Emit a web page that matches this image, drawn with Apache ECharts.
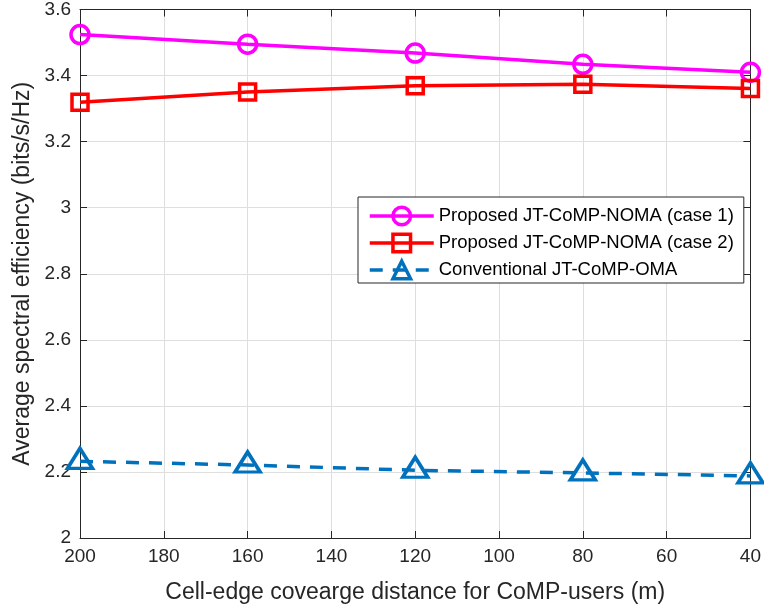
<!DOCTYPE html>
<html><head><meta charset="utf-8">
<script src="https://cdn.jsdelivr.net/npm/echarts@6/dist/echarts.min.js"></script>
<style>html,body{margin:0;padding:0;background:#fff}#c{width:764px;height:610px}</style>
</head><body><div id="c"></div>
<script>
const distances = [200, 160, 120, 80, 40];
const case1 = [3.524, 3.495, 3.468, 3.434, 3.410];
const case2 = [3.319, 3.350, 3.369, 3.374, 3.361];
const oma = [2.232, 2.221, 2.205, 2.197, 2.188];
const seriesNames = ['Proposed JT-CoMP-NOMA (case 1)', 'Proposed JT-CoMP-NOMA (case 2)', 'Conventional JT-CoMP-OMA'];
const xTitle = 'Cell-edge covearge distance for CoMP-users (m)';
const yTitle = 'Average spectral efficiency (bits/s/Hz)';

const pairs = v => distances.map((d, i) => [d, v[i]]);
const font = 'Liberation Sans, Arial, Helvetica, sans-serif';
const axisCommon = {
  axisLine: {show: true, lineStyle: {color: '#262626', width: 1}},
  axisTick: {show: true, inside: true, length: 7, lineStyle: {color: '#262626'}},
};
const chart = echarts.init(document.getElementById('c'));
chart.setOption({
  animation: false,
  backgroundColor: '#fff',
  grid: {left: 80, right: 13, top: 9, bottom: 72, containLabel: false},
  legend: {
    left: 358, top: 197, orient: 'vertical',
    backgroundColor: '#fff', borderColor: '#262626', borderWidth: 1,
    padding: [8, 10, 2, 10], itemGap: 5, itemWidth: 64, itemHeight: 22,
    lineStyle: {width: 3.5},
    itemStyle: {borderWidth: 3.5},
    textStyle: {fontFamily: font, fontSize: 18.5, color: '#000', lineHeight: 22},
    data: seriesNames
  },
  xAxis: [{
    type: 'value', inverse: true, min: 40, max: 200, interval: 20,
    ...axisCommon,
    axisLabel: {fontFamily: font, fontSize: 19, color: '#262626', margin: 9},
    splitLine: {show: true, lineStyle: {color: '#dedede', width: 1}},
    name: xTitle, nameLocation: 'middle', nameGap: 43,
    nameTextStyle: {fontFamily: font, fontSize: 23, color: '#262626'}
  }, {
    type: 'value', inverse: true, min: 40, max: 200, interval: 20, position: 'top',
    ...axisCommon, axisLabel: {show: false}, splitLine: {show: false}
  }],
  yAxis: [{
    type: 'value', min: 2, max: 3.6, interval: 0.2,
    ...axisCommon,
    axisLabel: {fontFamily: font, fontSize: 19, color: '#262626', margin: 9},
    splitLine: {show: true, lineStyle: {color: '#dedede', width: 1}},
    name: yTitle, nameLocation: 'middle', nameGap: 46,
    nameTextStyle: {fontFamily: font, fontSize: 23, color: '#262626'}
  }, {
    type: 'value', min: 2, max: 3.6, interval: 0.2, position: 'right',
    ...axisCommon, axisLabel: {show: false}, splitLine: {show: false}
  }],
  series: [{
    name: seriesNames[0], type: 'line', data: pairs(case1),
    symbol: 'circle', symbolSize: 18,
    lineStyle: {color: '#ff00ff', width: 3.5},
    itemStyle: {color: 'rgba(255,255,255,0)', borderColor: '#ff00ff', borderWidth: 3.5},
    color: '#ff00ff', z: 3
  }, {
    name: seriesNames[1], type: 'line', data: pairs(case2),
    symbol: 'rect', symbolSize: 16,
    lineStyle: {color: '#ff0000', width: 3.5},
    itemStyle: {color: 'rgba(255,255,255,0)', borderColor: '#ff0000', borderWidth: 3.5},
    color: '#ff0000', z: 3
  }, {
    name: seriesNames[2], type: 'line', data: pairs(oma),
    symbol: 'triangle', symbolSize: [25, 20], symbolOffset: [0, -3],
    lineStyle: {color: '#0072bd', width: 3.5, type: [13, 10]},
    itemStyle: {color: 'rgba(255,255,255,0)', borderColor: '#0072bd', borderWidth: 3.5},
    color: '#0072bd', z: 3
  }]
});
</script></body></html>
